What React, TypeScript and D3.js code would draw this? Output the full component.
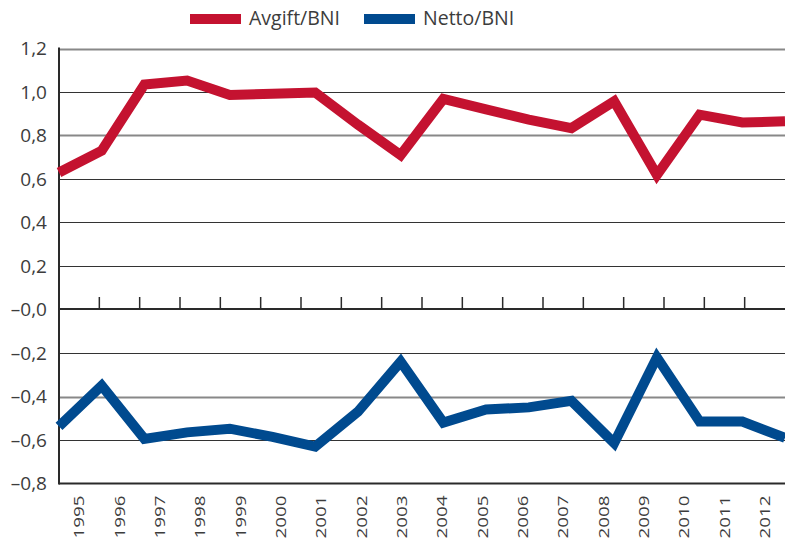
import React, { useEffect, useRef } from "react";
import { select, scaleBand, scalePoint, scaleLinear, line } from "d3";

const years: string[] = [
  "1995", "1996", "1997", "1998", "1999", "2000", "2001", "2002", "2003",
  "2004", "2005", "2006", "2007", "2008", "2009", "2010", "2011", "2012",
];
const avgiftBni: number[] = [
  0.63, 0.73, 1.034, 1.053, 0.986, 0.992, 0.998, 0.85, 0.71,
  0.968, 0.92, 0.873, 0.834, 0.957, 0.618, 0.896, 0.86, 0.865,
];
const nettoBni: number[] = [
  -0.537, -0.35, -0.595, -0.565, -0.548, -0.586, -0.63, -0.47, -0.24,
  -0.52, -0.46, -0.45, -0.42, -0.614, -0.22, -0.515, -0.515, -0.59,
];
const yTicks: number[] = [1.2, 1.0, 0.8, 0.6, 0.4, 0.2, 0, -0.2, -0.4, -0.6, -0.8];
const seriesNames: string[] = ["Avgift/BNI", "Netto/BNI"];
const seriesColors: string[] = ["#c41230", "#004a8f"];

const WIDTH = 785;
const HEIGHT = 538;
const FONT = "'Open Sans', 'Noto Sans', sans-serif";

// negative and zero labels get an en dash, as in the original
const fmt = (v: number): string => {
  const s = Math.abs(v).toFixed(1).replace(".", ",");
  return v <= 0 ? "\u2013" + s : s;
};

const App: React.FC = () => {
  const svgRef = useRef<SVGSVGElement>(null);
  useEffect(() => {
    const svg = select(svgRef.current);
    svg.selectAll("*").remove();
    const left = 59;
    const right = WIDTH;
    const top = 48.5;
    const bottom = 483.5;

    const y = scaleLinear().domain([-0.8, 1.2]).range([bottom, top]);
    const xBand = scaleBand<string>().domain(years).range([left, right]);
    const xPoint = scalePoint<string>().domain(years).range([left, right]);

    // grid
    svg
      .append("g")
      .selectAll("line")
      .data(yTicks.filter((t) => t !== 0 && t !== -0.8))
      .join("line")
      .attr("x1", left)
      .attr("x2", right)
      .attr("y1", (d) => Math.round(y(d)) + 0.5)
      .attr("y2", (d) => Math.round(y(d)) + 0.5)
      .attr("stroke", (d) => (d === 1.2 || d === 0.8 || d === -0.4 ? "#888" : "#333"))
      .attr("stroke-width", (d) => (d === 1.2 || d === 0.8 || d === -0.4 ? 2 : 1.2));

    // y labels
    svg
      .append("g")
      .selectAll("text")
      .data(yTicks)
      .join("text")
      .attr("x", 47)
      .attr("y", (d) => y(d))
      .attr("dy", "0.36em")
      .attr("text-anchor", "end")
      .style("font-family", FONT)
      .style("font-size", "19px")
      .style("fill", "#3c3c3c")
      .text((d) => fmt(d));

    // zero line with ticks
    const zeroY = Math.round(y(0));
    svg
      .append("line")
      .attr("x1", left)
      .attr("x2", right)
      .attr("y1", zeroY)
      .attr("y2", zeroY)
      .attr("stroke", "#2a2a2a")
      .attr("stroke-width", 2);
    svg
      .append("g")
      .selectAll("line")
      .data(years.slice(1))
      .join("line")
      .attr("x1", (d) => xBand(d) as number)
      .attr("x2", (d) => xBand(d) as number)
      .attr("y1", zeroY)
      .attr("y2", zeroY - 12)
      .attr("stroke", "#2a2a2a")
      .attr("stroke-width", 1.5);

    // axes frame
    svg
      .append("line")
      .attr("x1", left)
      .attr("x2", left)
      .attr("y1", top - 1)
      .attr("y2", bottom + 1)
      .attr("stroke", "#2a2a2a")
      .attr("stroke-width", 2);
    svg
      .append("line")
      .attr("x1", left)
      .attr("x2", right)
      .attr("y1", bottom)
      .attr("y2", bottom)
      .attr("stroke", "#2a2a2a")
      .attr("stroke-width", 2);

    // x labels (stretched along the reading direction like the source)
    svg
      .append("g")
      .selectAll("text")
      .data(years)
      .join("text")
      .attr(
        "transform",
        (d) =>
          `translate(${(xBand(d) as number) + xBand.bandwidth() / 2},${bottom + 12}) rotate(-90) scale(1.3,1)`
      )
      .attr("dy", "0.36em")
      .attr("text-anchor", "end")
      .style("font-family", FONT)
      .style("font-size", "14.5px")
      .style("fill", "#3c3c3c")
      .text((d) => d);

    // lines
    const path = line<number>()
      .x((_, i) => xPoint(years[i]) as number)
      .y((d) => y(d));
    [avgiftBni, nettoBni].forEach((vals, i) => {
      svg
        .append("path")
        .datum(vals)
        .attr("d", path)
        .attr("fill", "none")
        .attr("stroke", seriesColors[i])
        .attr("stroke-width", 10)
        .attr("stroke-linejoin", "miter");
    });

    // legend
    const legendX = [190, 364];
    const lg = svg.append("g");
    seriesNames.forEach((name, i) => {
      lg.append("rect")
        .attr("x", legendX[i])
        .attr("y", 14)
        .attr("width", 51)
        .attr("height", 10)
        .attr("fill", seriesColors[i]);
      lg.append("text")
        .attr("x", legendX[i] + 59)
        .attr("y", 25)
        .style("font-family", FONT)
        .style("font-size", "19.5px")
        .style("fill", "#3c3c3c")
        .text(name);
    });
  }, []);
  return (
    <svg
      ref={svgRef}
      width={WIDTH}
      height={HEIGHT}
      style={{ position: "absolute", left: 0, top: 0, background: "white", overflow: "hidden" }}
    />
  );
};

export default App;
